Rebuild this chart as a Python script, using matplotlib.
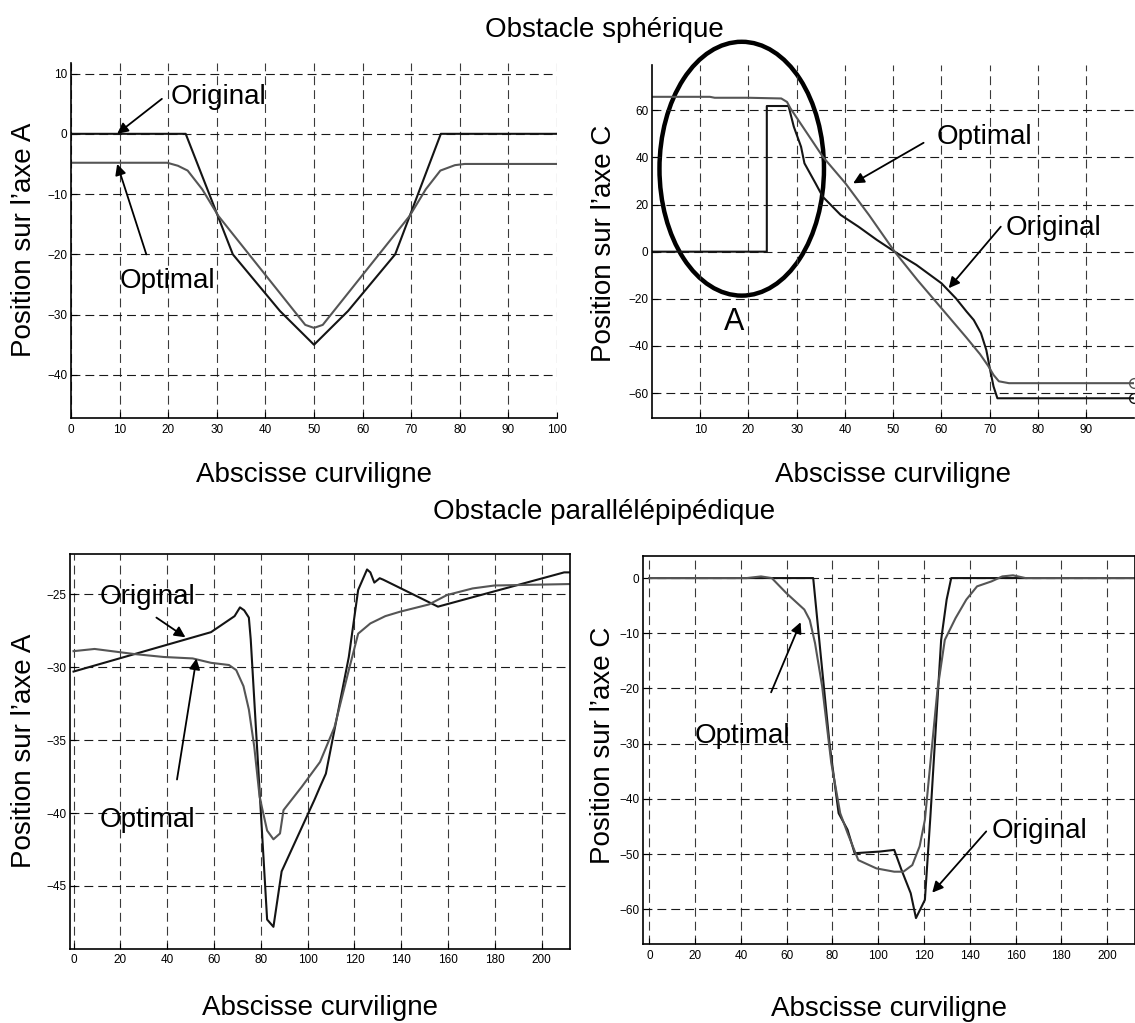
import matplotlib
matplotlib.use("Agg")
import matplotlib.pyplot as plt
from matplotlib.patches import Ellipse

plt.rcParams['font.family'] = ['Liberation Sans', 'DejaVu Sans']

# ---- Obstacle sphérique, axe A ----
sa_x_orig = [0, 23.6, 33.3, 43.0, 50.0, 57.0, 66.7, 76.1, 100]
sa_orig = [0, 0, -20.0, -29.4, -35.0, -29.4, -20.0, 0, 0]
sa_x_opt = [0, 19.8, 22.0, 24.0, 27.0, 30.3, 48.2, 50.0, 51.8, 69.7, 73.0, 76.0, 79.0, 81.0, 100]
sa_opt = [-4.8, -4.8, -5.3, -6.1, -9.2, -13.6, -31.7, -32.2, -31.7, -13.6, -9.2, -6.1, -5.2, -5.0, -5.0]

# ---- Obstacle sphérique, axe C ----
sc_x_orig = [0, 23.8, 23.8, 28.3, 29.4, 30.9, 31.6, 33.9, 35.4, 39.1, 42.8, 46.6, 50.3,
             54.8, 60.0, 63.0, 65.2, 66.7, 68.2, 69.3, 70.1, 70.8, 71.6, 100]
sc_orig = [0, 0, 61.8, 61.8, 53.0, 44.5, 37.5, 29.0, 23.3, 15.6, 10.6, 5.0, 0,
           -5.6, -13.4, -19.8, -25.4, -29.0, -34.6, -41.7, -50.2, -57.2, -62.2, -62.2]
sc_x_opt = [0, 12, 13, 20, 26.8, 28.0, 28.7, 35.4, 40.1, 45.0, 50.3, 55.0, 60.0,
            65.2, 68.0, 69.7, 70.8, 71.9, 74.0, 100]
sc_opt = [65.7, 65.7, 65.3, 65.3, 65.0, 63.5, 60.8, 40.3, 29.0, 15.5, 0, -12.0, -24.0,
          -36.5, -43.5, -48.5, -52.3, -55.0, -55.8, -55.8]

# ---- Obstacle parallélépipédique, axe A ----
pa_x_orig = [0, 58.7, 63.3, 68.8, 71.1, 72.9, 74.9, 75.7, 82.7, 85.4, 88.9, 102.9, 105.3,
             107.8, 117.6, 121.6, 125.4, 126.8, 128.5, 130.8, 132.3, 155.7, 209.6, 212]
pa_orig = [-30.3, -27.6, -27.1, -26.5, -25.9, -26.1, -26.6, -28.1, -47.3, -47.8, -44.0,
           -39.1, -38.2, -37.3, -29.3, -24.7, -23.3, -23.5, -24.2, -23.9, -24.0, -25.85,
           -23.5, -23.5]
pa_x_opt = [0, 9, 26, 38.5, 50.9, 58.7, 66.4, 69.5, 72.6, 74.9, 77.2, 79.5, 82.7, 85.4,
            88.2, 89.7, 97.5, 105.3, 111.5, 117.6, 121.6, 126.8, 133.2, 139.4, 151.8,
            159.6, 170.5, 179.8, 212]
pa_opt = [-28.9, -28.75, -29.1, -29.3, -29.4, -29.7, -29.85, -30.2, -31.3, -32.9, -35.45,
          -38.9, -41.2, -41.8, -41.4, -39.8, -38.2, -36.5, -34.1, -30.2, -27.7, -27.0,
          -26.5, -26.2, -25.7, -25.05, -24.6, -24.4, -24.3]

# ---- Obstacle parallélépipédique, axe C ----
pc_x_orig = [0, 71.6, 74.8, 78.7, 82.7, 86.6, 89.7, 100.7, 107.0, 110.2, 114.2, 116.5,
             120.4, 122.8, 127.5, 129.9, 131.9, 212]
pc_orig = [0, 0, -13.6, -29.9, -42.6, -45.6, -49.85, -49.55, -49.25, -52.9, -57.1, -61.6,
           -58.3, -43.2, -11.2, -3.9, 0, 0]
pc_x_opt = [0, 42.5, 48.8, 53.5, 59.8, 67.7, 70.1, 72.4, 75.5, 79.5, 83.4, 86.6, 91.3,
            99.2, 107.0, 111.0, 114.9, 118.1, 120.4, 122.8, 125.9, 129.1, 133.8, 138.5,
            143.2, 149.5, 154.2, 158.9, 164.4, 212]
pc_opt = [0, 0, 0.3, 0, -2.7, -5.7, -7.6, -11.8, -19.6, -33.5, -42.6, -46.2, -51.1,
          -52.6, -53.2, -53.2, -52.0, -48.6, -43.8, -33.5, -20.2, -11.2, -7.25, -3.9,
          -1.5, -0.6, 0.3, 0.5, 0, 0]

W, H = 1135, 1023
fig = plt.figure(figsize=(W / 100, H / 100), dpi=100)

ORIG_C = '#141414'
OPT_C = '#555555'
FS = 20
DASH = (0, (8, 4.5))


def add_panel(left, top, right, bottom, box):
    ax = fig.add_axes([left / W, 1 - bottom / H, (right - left) / W, (bottom - top) / H])
    ax.grid(True, axis='y', color='#1a1a1a', lw=0.8, ls=DASH)
    ax.grid(True, axis='x', color='#3a3a3a', lw=0.8, ls=DASH)
    ax.tick_params(direction='in', length=4, labelsize=8.5, width=0.8)
    ax.tick_params(axis='x', pad=4)
    ax.tick_params(axis='y', pad=2.5)
    for s in ['left', 'bottom']:
        ax.spines[s].set_linewidth(1.2)
    for s in ['top', 'right']:
        ax.spines[s].set_visible(box)
        ax.spines[s].set_linewidth(1.2)
    return ax


def labels(ax, left, top, right, bottom, ylab, ylx, yly, xly):
    ax.set_ylabel(ylab, fontsize=FS, va='center')
    ax.yaxis.set_label_coords((ylx - left) / (right - left), (bottom - yly) / (bottom - top))
    ax.set_xlabel('Abscisse curviligne', fontsize=FS, va='center')
    ax.xaxis.set_label_coords(0.5, -(xly - bottom) / (bottom - top))


def arrow(ax, head, tail):
    ax.annotate('', xy=head, xytext=tail,
                arrowprops=dict(arrowstyle='-|>', color='k', lw=1.3, mutation_scale=16,
                                shrinkA=0, shrinkB=0))


# top left
ax1 = add_panel(71, 63.3, 557, 418.3, False)
ax1.plot(sa_x_orig, sa_orig, color=ORIG_C, lw=1.5)
ax1.plot(sa_x_opt, sa_opt, color=OPT_C, lw=1.5)
ax1.set_xlim(0, 100)
ax1.set_ylim(-47.2, 11.7)
ax1.set_xticks(range(0, 101, 10))
ax1.set_yticks(range(-40, 11, 10))
labels(ax1, 71, 63.3, 557, 418.3, 'Position sur l\u2019axe A', 23.6, 240, 475)
ax1.text(20.5, 6.1, 'Original', fontsize=FS, va='center')
arrow(ax1, (9.5, 0), (18.7, 5.8))
ax1.text(10.1, -24.4, 'Optimal', fontsize=FS, va='center')
arrow(ax1, (9.5, -5), (15.5, -20))

# top right
ax2 = add_panel(652, 65, 1134.4, 418.3, False)
ax2.plot(sc_x_orig, sc_orig, color=ORIG_C, lw=1.5)
ax2.plot(sc_x_opt, sc_opt, color=OPT_C, lw=1.5)
ax2.plot([sc_x_orig[-1]], [sc_orig[-1]], 'o', mfc='none', mec=ORIG_C, ms=7, clip_on=False)
ax2.plot([sc_x_opt[-1]], [sc_opt[-1]], 'o', mfc='none', mec=OPT_C, ms=7, clip_on=False)
ax2.set_xlim(0, 100)
ax2.set_ylim(-70.7, 79.2)
ax2.set_xticks(range(10, 100, 10))
ax2.set_yticks(range(-60, 61, 20))
labels(ax2, 652, 65, 1134.4, 418.3, 'Position sur l\u2019axe C', 604, 243, 475)
ax2.add_patch(Ellipse((18.6, 35.2), 34.1, 107.7, fill=False, lw=3.2, ec='k', clip_on=False))
ax2.text(17.1, -29.7, 'A', fontsize=22, ha='center', va='center')
ax2.text(58.9, 48.5, 'Optimal', fontsize=FS, va='center')
arrow(ax2, (41.7, 29), (56.3, 46.2))
ax2.text(73.4, 9.9, 'Original', fontsize=FS, va='center')
arrow(ax2, (61.5, -15.5), (72.3, 10.6))

# bottom left
ax3 = add_panel(69.8, 554, 570, 948.7, True)
ax3.plot(pa_x_orig, pa_orig, color=ORIG_C, lw=1.5)
ax3.plot(pa_x_opt, pa_opt, color=OPT_C, lw=1.5)
ax3.set_xlim(-1.6, 212.1)
ax3.set_ylim(-49.3, -22.24)
ax3.set_xticks(range(0, 201, 20))
ax3.set_yticks(range(-45, -24, 5))
labels(ax3, 69.8, 554, 570, 948.7, 'Position sur l\u2019axe A', 23.6, 751, 1008)
ax3.text(11.3, -25.2, 'Original', fontsize=FS, va='center')
arrow(ax3, (47.8, -27.95), (35.4, -26.6))
ax3.text(11.3, -40.5, 'Optimal', fontsize=FS, va='center')
arrow(ax3, (52.5, -29.4), (44.2, -37.7))

# bottom right
ax4 = add_panel(642.7, 556, 1135, 944, True)
ax4.plot(pc_x_orig, pc_orig, color=ORIG_C, lw=1.5)
ax4.plot(pc_x_opt, pc_opt, color=OPT_C, lw=1.5)
ax4.set_xlim(-2.9, 212.2)
ax4.set_ylim(-66.3, 4.0)
ax4.set_xticks(range(0, 201, 20))
ax4.set_yticks(range(-60, 1, 10))
labels(ax4, 642.7, 556, 1135, 944, 'Position sur l\u2019axe C', 603, 745, 1009)
ax4.text(19.7, -28.7, 'Optimal', fontsize=FS, va='center')
arrow(ax4, (66.1, -8.0), (53.2, -20.7))
ax4.text(149.5, -45.9, 'Original', fontsize=FS, va='center')
arrow(ax4, (123.6, -57.0), (147.2, -45.9))

fig.text(604 / W, 1 - 30 / H, 'Obstacle sphérique', fontsize=FS, ha='center', va='center')
fig.text(604 / W, 1 - 512 / H, 'Obstacle parallélépipédique', fontsize=FS, ha='center', va='center')

fig.savefig('out.png', dpi=100)
